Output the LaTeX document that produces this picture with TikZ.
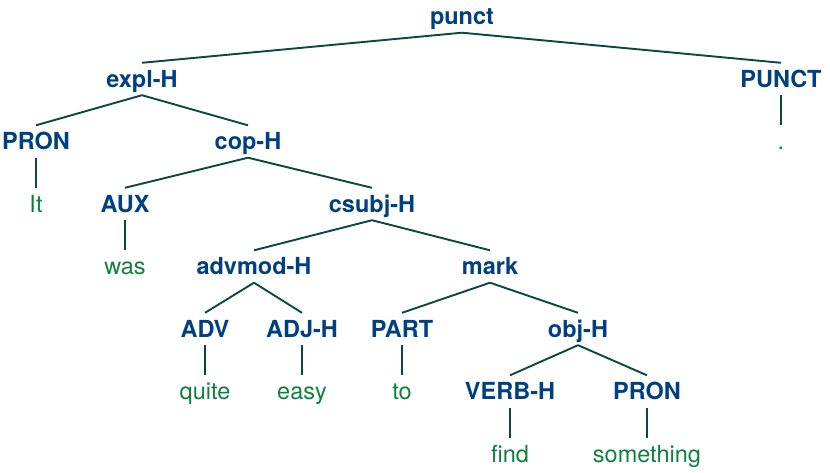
\documentclass[tikz,border=0pt]{standalone}
\usepackage{fontspec}
\setmainfont{TeX Gyre Heros}
\usetikzlibrary{positioning}
\definecolor{catblue}{RGB}{0,64,128}
\definecolor{wordgreen}{RGB}{16,128,64}
\definecolor{linkteal}{RGB}{10,72,64}

\begin{document}
\begin{tikzpicture}[x=1pt,y=-1pt,node distance=62.5pt,
	cat node/.style={font=\fontsize{23.5}{28}\selectfont\bfseries,text=catblue,
		text height=20pt,text depth=4pt,inner xsep=2pt,inner ysep=4pt},
	word node/.style={cat node,font=\fontsize{23.5}{28}\selectfont,text=wordgreen}]
	
	\useasboundingbox (0,0) rectangle (830,472);
	
	\node[cat node] (1) at (462,16.5) {punct};
	\node[cat node] (2) at (142,79) {expl-H};
	\node[cat node] (3) at (781,79) {PUNCT};
	\node[cat node] (4) at (36,141.5) {PRON};
	\node[cat node] (5) at (248,141.5) {cop-H};
	\node[cat node] (6) at (125,204) {AUX};
	\node[cat node] (7) at (372,204) {csubj-H};
	\node[cat node] (8) at (254,266.5) {advmod-H};
	\node[cat node] (9) at (490,266.5) {mark};
	\node[cat node] (10) at (205,329) {ADV};
	\node[cat node] (11) at (302,329) {ADJ-H};
	\node[cat node] (12) at (402,329) {PART};
	\node[cat node] (13) at (578,329) {obj-H};
	\node[cat node] (14) at (510,391.5) {VERB-H};
	\node[cat node] (15) at (647,391.5) {PRON};
	
	\node[word node] (16) [below of=3] {.};
	\node[word node] (17) [below of=4] {It};
	\node[word node] (18) [below of=6] {was};
	\node[word node] (19) [below of=10] {quite};
	\node[word node] (20) [below of=11] {easy};
	\node[word node] (21) [below of=12] {to};
	\node[word node] (22) [below of=14] {find};
	\node[word node] (23) [below of=15] {something};
	
	\path[color=linkteal,line width=1.9pt]
	(1.south) edge (2.north)
	edge (3.north)
	(2.south) edge (4.north)
	edge (5.north)
	(5.south) edge (6.north)
	edge (7.north)
	(7.south) edge (8.north)
	edge (9.north)
	(8.south) edge (10.north)
	edge (11.north)
	(9.south) edge (12.north)
	edge (13.north)
	(13.south) edge (14.north)
	edge (15.north)
	(3.south) edge (16.north)
	(4.south) edge (17.north)
	(6.south) edge (18.north)
	(10.south) edge (19.north)
	(11.south) edge (20.north)
	(12.south) edge (21.north)
	(14.south) edge (22.north)
	(15.south) edge (23.north);
\end{tikzpicture}
\end{document}
